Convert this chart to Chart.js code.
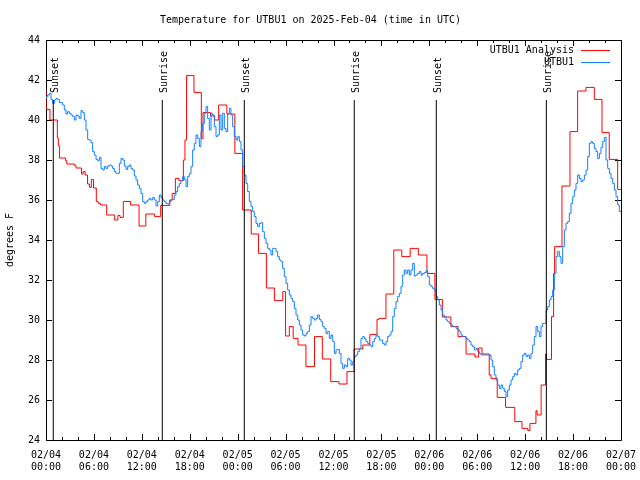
<!DOCTYPE html>
<html><head><meta charset="utf-8">
<script src="https://cdn.jsdelivr.net/npm/chart.js@4/dist/chart.umd.min.js"></script>
<style>html,body{margin:0;padding:0;background:#fff}</style>
</head><body>
<canvas id="c" width="640" height="480"></canvas>
<script>
const FONT = 'DejaVu Sans Mono';
const titleText = 'Temperature for UTBU1 on 2025-Feb-04 (time in UTC)';
const yAxisLabel = 'degrees F';
const seriesNames = ['UTBU1 Analysis', 'UTBU1'];
const xTickDates = ['02/04','02/04','02/04','02/04','02/05','02/05','02/05','02/05','02/06','02/06','02/06','02/06','02/07'];
const xTickTimes = ['00:00','06:00','12:00','18:00','00:00','06:00','12:00','18:00','00:00','06:00','12:00','18:00','00:00'];
const yTicks = [24,26,28,30,32,34,36,38,40,42,44];

// sun events, hours after 02/04 00:00 UTC
const sunHours = [0.91, 14.56, 24.83, 38.6, 48.87, 62.65];
const sunLabels = ['Sunset','Sunrise','Sunset','Sunrise','Sunset','Sunrise'];
const sunLineTop = 41;

// analysis (red) step changes: hour -> temperature
const redHours = [0,0.5,1.42,1.55,1.7,2.45,2.6,3.55,3.75,4.45,4.65,4.9,5.2,5.45,5.68,5.95,6.3,6.55,6.85,7.6,8.6,9.0,9.27,9.68,10.6,11.65,12.5,13.6,14.36,15.5,15.8,16.2,16.65,17.2,17.4,17.6,18.53,19.45,19.66,20.6,21.12,21.62,22.65,23.65,24.62,25.7,26.6,27.6,28.6,29.65,30.0,30.47,30.95,31.56,32.55,33.62,34.6,35.65,36.69,37.69,38.57,39.67,40.55,41.45,41.7,42.57,43.55,44.55,45.6,46.62,47.7,48.7,49.63,50.7,51.59,52.6,53.72,54.17,54.6,55.5,55.72,56.5,57.55,58.7,59.6,60.33,60.6,61.35,61.5,62.0,62.55,62.65,63.3,63.56,63.69,64.61,65.61,66.57,67.61,68.66,69.62,70.53,71.58,71.87,72];
const redTemps = [41.53,40.53,40.0,39.1,38.7,38.1,37.97,37.8,37.73,37.6,37.3,37.42,37.25,36.8,36.63,37.03,36.6,35.92,35.83,35.75,35.25,35.0,35.23,35.13,35.93,35.75,34.7,35.3,35.17,35.73,36.0,36.33,37.08,36.97,38.0,39.0,42.22,41.38,39.08,40.37,40.2,40.0,40.75,40.3,38.33,35.5,34.3,33.33,31.6,30.97,31.42,29.2,29.67,29.08,28.75,27.67,29.17,28.05,26.92,26.8,27.42,28.55,28.75,29.28,30.03,30.08,31.3,33.5,33.17,33.58,33.25,32.33,31.03,30.15,29.67,29.17,28.3,28.15,28.6,28.3,27.25,27.08,26.13,25.63,24.92,24.58,24.47,24.83,25.47,25.25,26.75,28.3,28.03,30.17,32.33,33.67,36.7,39.42,41.45,41.63,41.03,39.37,38.03,36.53,36.53];

// observations (blue), regular spacing from 02/04 00:00
const blueStepHours = 0.2087;
const blueTemps = [
41.08,41.17,41.25,41.33,41.03,40.83,41.0,41.08,41.03,40.87,40.87,40.75,40.5,40.3,40.42,40.33,40.25,40.17,40.0,40.25,40.2,40.08,40.47,40.37,40.0,39.5,39.03,39.0,38.87,38.42,38.25,38.03,37.97,38.13,37.58,37.5,37.67,37.58,37.7,37.75,37.7,37.58,37.42,37.33,37.33,37.83,38.08,38.0,37.7,37.53,37.67,37.75,37.58,37.5,37.2,37.0,36.75,36.58,36.33,35.92,35.83,35.92,36.0,36.08,36.0,36.13,36.0,35.7,35.92,36.25,36.13,36.0,35.92,35.83,35.8,35.92,36.0,36.03,36.25,36.42,36.67,36.83,36.97,37.17,37.03,36.67,
37.17,37.33,37.67,38.5,38.83,39.25,39.08,38.67,39.42,39.83,40.33,40.67,40.08,39.5,40.33,40.25,39.67,39.17,39.25,40.25,39.5,40.33,39.58,39.42,40.33,40.58,40.25,39.67,39.17,39.0,39.17,38.92,38.5,37.67,37.25,36.83,36.42,35.92,35.67,35.42,35.17,34.83,34.67,34.83,34.87,34.42,34.08,33.83,33.58,33.5,33.25,33.58,33.58,33.42,33.17,33.0,32.92,32.58,32.17,31.83,31.5,31.25,31.08,30.92,30.58,30.25,30.0,29.75,29.5,29.25,29.2,29.33,29.42,29.75,30.17,30.08,30.0,30.08,30.25,30.03,29.92,29.67,29.58,29.33,29.42,29.08,
29.25,28.92,28.33,28.5,28.53,28.33,27.83,27.58,27.75,27.67,28.08,28.0,27.75,27.92,28.17,28.25,28.42,28.58,29.08,29.17,29.08,28.92,28.83,28.75,28.67,28.92,29.08,29.25,29.17,29.0,29.0,28.83,28.75,28.92,29.17,29.25,29.42,30.17,30.58,30.92,31.17,31.33,31.67,32.25,32.5,32.33,32.5,32.25,32.5,32.83,32.2,32.25,32.33,32.42,32.25,32.33,32.37,32.47,32.17,31.75,31.67,31.58,31.5,31.17,31.0,30.75,30.5,30.25,30.17,30.0,29.92,29.83,29.75,29.67,29.67,29.58,29.5,29.42,29.25,29.17,29.17,29.08,29.0,28.92,28.75,28.67,28.5,
28.58,28.42,28.33,28.25,28.25,28.25,28.25,28.25,28.25,28.0,27.67,27.25,27.0,26.75,26.58,26.75,26.58,26.42,26.17,26.5,26.75,27.0,27.17,27.33,27.25,27.5,27.58,27.92,28.25,28.33,28.17,28.25,28.08,28.33,28.75,29.17,29.67,29.42,29.17,29.67,29.83,29.83,30.5,30.67,31.0,31.17,31.5,32.33,33.17,33.42,33.17,32.83,33.67,34.5,34.83,34.92,35.33,35.83,36.17,36.5,36.83,37.25,37.08,36.92,37.0,37.25,37.5,38.17,38.83,38.92,38.83,38.58,38.42,38.08,38.33,38.63,38.92,39.13,38.0,37.58,37.33,37.08,36.83,36.5,36.17,35.75,35.42
];

const RED = 'rgb(255,0,0)';
const BLUE = 'rgb(16,128,255)';

const sunSets = sunHours.map(h => ({
  label: '', data: [{x: h, y: 24}, {x: h, y: sunLineTop}],
  borderColor: '#000', borderWidth: 1, pointRadius: 0, order: 0
}));

const frameAndTicks = {
  id: 'frameAndTicks',
  beforeDatasetsDraw(chart) {
    const {ctx, chartArea: a, scales: {x, y}} = chart;
    ctx.save();
    ctx.strokeStyle = '#000'; ctx.lineWidth = 1;
    ctx.beginPath();
    ctx.rect(Math.round(a.left) + 0.5, Math.round(a.top) + 0.5, Math.round(a.right - a.left), Math.round(a.bottom - a.top));
    yTicks.forEach(v => {
      const py = Math.round(y.getPixelForValue(v)) + 0.5;
      ctx.moveTo(a.left, py); ctx.lineTo(a.left + 6, py);
      ctx.moveTo(a.right, py); ctx.lineTo(a.right - 6, py);
    });
    for (let h = 0; h <= 72; h += 2) {
      const px = Math.round(x.getPixelForValue(h)) + 0.5;
      const len = (h % 6 === 0) ? 6 : 3;
      ctx.moveTo(px, a.bottom); ctx.lineTo(px, a.bottom - len);
      ctx.moveTo(px, a.top); ctx.lineTo(px, a.top + len);
    }
    ctx.stroke();
    ctx.restore();
  },
  afterDraw(chart) {
    const {ctx, scales: {x, y}} = chart;
    ctx.save();
    ctx.fillStyle = '#000';
    ctx.font = '10px "' + FONT + '"';
    sunHours.forEach((h, i) => {
      const px = x.getPixelForValue(h) + 2;
      const py = y.getPixelForValue(sunLineTop) - 7;
      ctx.save();
      ctx.translate(px, py);
      ctx.rotate(-Math.PI / 2);
      ctx.textAlign = 'left'; ctx.textBaseline = 'middle';
      ctx.fillText(sunLabels[i], 0, 0);
      ctx.restore();
    });
    const colors = [RED, BLUE];
    seriesNames.forEach((name, i) => {
      const ly = 50 + i * 12;
      ctx.textAlign = 'right'; ctx.textBaseline = 'middle';
      ctx.fillStyle = '#000';
      ctx.fillText(name, 574, ly);
      ctx.strokeStyle = colors[i]; ctx.lineWidth = 1;
      ctx.beginPath(); ctx.moveTo(581, ly + 0.5); ctx.lineTo(610, ly + 0.5); ctx.stroke();
    });
    ctx.restore();
  }
};

new Chart(document.getElementById('c'), {
  type: 'line',
  data: {
    datasets: [
      ...sunSets,
      { label: seriesNames[1], data: blueTemps.map((t, i) => ({x: i * blueStepHours, y: t})),
        borderColor: BLUE, borderWidth: 1, pointRadius: 0, stepped: 'after', order: 1 },
      { label: seriesNames[0], data: redHours.map((h, i) => ({x: h, y: redTemps[i]})),
        borderColor: RED, borderWidth: 1, pointRadius: 0, stepped: 'after', order: 2 }
    ]
  },
  options: {
    responsive: false, animation: false, devicePixelRatio: 1,
    layout: { padding: { left: 0, right: 19, top: 0, bottom: 0 } },
    plugins: {
      legend: { display: false }, tooltip: { enabled: false },
      title: { display: true, text: titleText, color: '#000',
        font: { family: FONT, size: 10, weight: 'normal' }, padding: { top: 14, bottom: 14 } }
    },
    scales: {
      x: { type: 'linear', min: 0, max: 72,
        grid: { display: false, drawTicks: false }, border: { display: false },
        ticks: { stepSize: 6, autoSkip: false, maxRotation: 0, color: '#000',
          font: { family: FONT, size: 10 }, padding: 9,
          callback: v => { const i = Math.round(v / 6); return [xTickDates[i], xTickTimes[i]]; } },
        afterFit: s => { s.height = 40; s.paddingLeft = 0; s.paddingRight = 0; } },
      y: { min: 24, max: 44,
        grid: { display: false, drawTicks: false }, border: { display: false },
        ticks: { stepSize: 2, color: '#000', font: { family: FONT, size: 10 }, padding: 6 },
        title: { display: true, text: yAxisLabel, color: '#000', font: { family: FONT, size: 10 }, padding: { top: 4, bottom: 0 } },
        afterFit: s => { s.width = 46; s.paddingTop = 0; s.paddingBottom = 0; } }
    }
  },
  plugins: [frameAndTicks]
});
</script>
</body></html>
